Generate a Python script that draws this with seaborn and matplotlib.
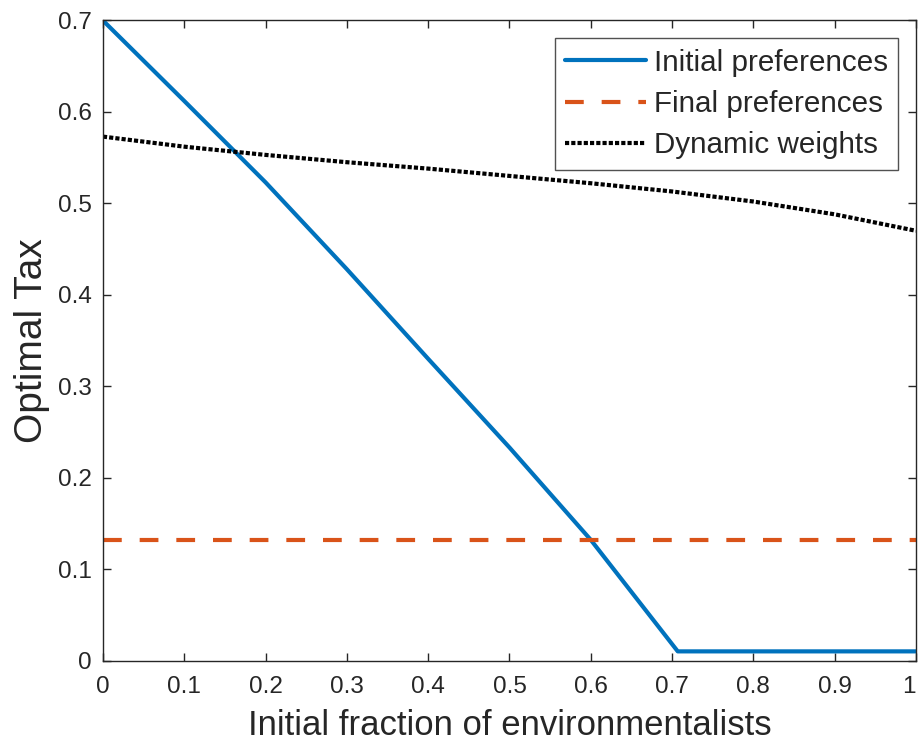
import numpy as np
import pandas as pd
import matplotlib
matplotlib.use("Agg")
import matplotlib.pyplot as plt
import seaborn as sns

# values
x_init = [0.0, 0.1, 0.2, 0.3, 0.4, 0.5, 0.6, 0.65, 0.707, 0.8, 0.9, 1.0]
tax_init = [0.700, 0.612, 0.523, 0.428, 0.330, 0.233, 0.132, 0.075, 0.010, 0.010, 0.010, 0.010]

x_final = [0.0, 1.0]
tax_final = [0.132, 0.132]

x_dyn = [0.0, 0.1, 0.2, 0.3, 0.4, 0.5, 0.6, 0.7, 0.8, 0.9, 1.0]
tax_dyn = [0.573, 0.562, 0.553, 0.545, 0.538, 0.530, 0.522, 0.513, 0.502, 0.488, 0.470]

sns.set_style("ticks")
plt.rcParams["font.family"] = ["Liberation Sans", "DejaVu Sans"]

fig = plt.figure(figsize=(9.19, 7.45), dpi=100)
ax = fig.add_axes([0.112, 0.1134, 0.8847, 0.8591])

sns.lineplot(x=x_init, y=tax_init, ax=ax, color="#0072BD", lw=3, label="Initial preferences")
sns.lineplot(x=x_final, y=tax_final, ax=ax, color="#D95319", lw=3, label="Final preferences")
sns.lineplot(x=x_dyn, y=tax_dyn, ax=ax, color="black", lw=3, label="Dynamic weights")
ax.lines[1].set_dashes((4.5, 4.3))
ax.lines[2].set_dashes((1, 0.5))

ax.set_xlim(0, 1)
ax.set_ylim(0, 0.7)
ax.set_xticks(np.arange(0, 1.01, 0.1))
ax.set_yticks(np.arange(0, 0.71, 0.1))
ax.set_xticklabels(["0"] + [f"{v:.1f}" for v in np.arange(0.1, 0.95, 0.1)] + ["1"])
ax.set_yticklabels(["0"] + [f"{v:.1f}" for v in np.arange(0.1, 0.75, 0.1)])

dark = "#262626"
for s in ax.spines.values():
    s.set_visible(True)
    s.set_color(dark)
    s.set_linewidth(1.0)
ax.tick_params(direction="in", top=True, right=True, length=6, width=1,
               labelsize=17.5, colors=dark)
ax.tick_params(axis="x", pad=11)
ax.tick_params(axis="y", pad=8)
# keep the "1" at the right edge inside the canvas
ax.get_xticklabels()[-1].set_horizontalalignment("right")

ax.set_xlabel("Initial fraction of environmentalists", fontsize=25, color=dark, labelpad=8)
ax.set_ylabel("Optimal Tax", fontsize=28, color=dark, labelpad=6)

leg = ax.legend(loc="upper right", fontsize=21.3, frameon=True, fancybox=False,
                edgecolor=dark, handlelength=2.75, handletextpad=0.25,
                borderpad=0.35, labelspacing=0.45, borderaxespad=0.6)
leg.get_frame().set_linewidth(1.0)

fig.savefig("out.png", dpi=100)
